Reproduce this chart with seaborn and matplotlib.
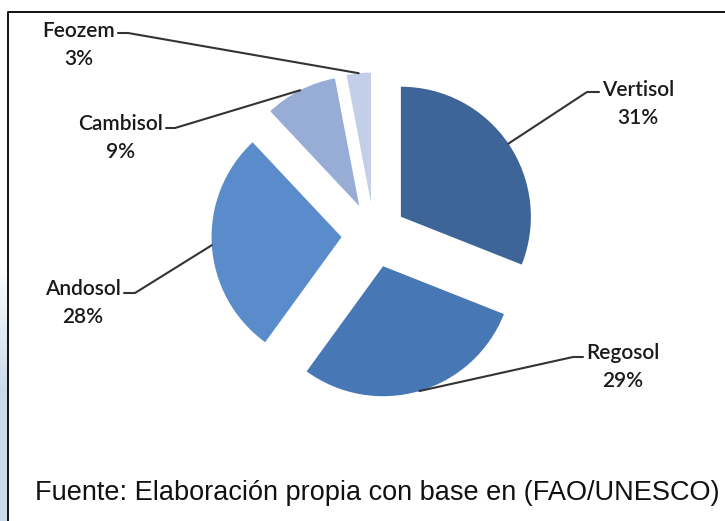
import numpy as np
import matplotlib
matplotlib.use("Agg")
import matplotlib.pyplot as plt
import seaborn as sns

sns.set_theme(style="white")
plt.rcParams['font.family'] = ['Lato', 'DejaVu Sans']

# data
soils = ["Vertisol", "Regosol", "Andosol", "Cambisol", "Feozem"]
shares = [31, 29, 28, 9, 3]
colors = ["#3d6598", "#4877b5", "#5a8ccb", "#98add6", "#c3cee8"]

# label layout in pixels (text anchor, alignment, elbow, end of short horizontal)
label_pos = [(602, 104), (586, 367), (121, 303), (163, 138), (115, 45)]
label_ha = ["left", "left", "right", "right", "right"]
elbows = [(587, 92), (573, 357), (135, 293), (175, 128), (128, 33)]
line_ends = [(599, 92), (583, 357), (124, 293), (166, 128), (118, 33)]

W, H = 725, 521
CX, CY, R = 374, 235, 130


def px(x, y):
    return (x - CX) / R, (CY - y) / R


fig = plt.figure(figsize=(W / 100, H / 100), dpi=100)
ax = fig.add_axes([0, 0, 1, 1])
ax.axis("off")

# left light blue strip
grad = np.linspace(0, 1, 200).reshape(-1, 1)
grad = np.clip((grad - 0.5) / 0.25, 0, 1)
strip = np.ones((200, 1, 4))
strip[..., 0] = 0.79
strip[..., 1] = 0.86
strip[..., 2] = 0.92
strip[..., 3] = grad
x0, y0 = px(0, 0)
x1, y1 = px(6.5, H)
ax.imshow(strip, extent=[x0, x1, y1, y0], aspect="auto", zorder=0)

# frame
fx, fy = px(7.5, 11.5)
ax.plot([fx, fx, px(W + 5, 0)[0]], [px(0, H + 5)[1], fy, fy],
        color="black", lw=1.3, zorder=1)

wedges, _ = ax.pie(shares, colors=colors, startangle=90, counterclock=False,
                   explode=[0.25] * len(shares), radius=1, center=(0, 0),
                   wedgeprops=dict(linewidth=0))
ax.set_xlim(px(0, 0)[0], px(W, 0)[0])
ax.set_ylim(px(0, H)[1], px(0, 0)[1])
ax.set_aspect("auto")

for w, name, val, lp, ha, el, le in zip(wedges, soils, shares, label_pos, label_ha, elbows, line_ends):
    th = np.deg2rad((w.theta1 + w.theta2) / 2)
    cx, cy = w.center
    sx, sy = cx + w.r * np.cos(th), cy + w.r * np.sin(th)
    ex, ey = px(*el)
    lx, ly = px(*le)
    ax.plot([sx, ex, lx], [sy, ey, ly], color="#333333", lw=1.5, zorder=3)
    tx, ty = px(*lp)
    ax.text(tx, ty, f"{name}\n{val}%", ha=ha, va="center", multialignment="center",
            fontsize=15, fontweight="semibold", color="#1a1a1a", linespacing=1.5)

fig.text(35 / W, 1 - 493 / H, "Fuente: Elaboración propia con base en (FAO/UNESCO)",
         ha="left", va="center", fontsize=19.5, family="Liberation Sans", color="#111111")

fig.savefig("out.png", dpi=100)
